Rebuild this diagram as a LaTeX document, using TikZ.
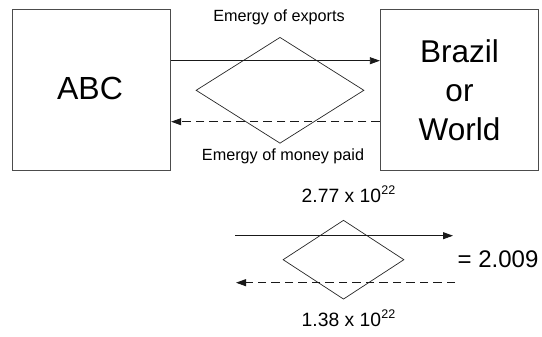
\documentclass[tikz,border=0pt]{standalone}
\usepackage{fontspec}
\setmainfont{Liberation Sans}
\usetikzlibrary{arrows.meta,shapes.geometric}
\begin{document}
\begin{tikzpicture}[x=1pt,y=-1pt,
  sysbox/.style={draw=black!70,line width=0.8pt,minimum width=158.5pt,minimum height=161pt,inner sep=0pt,align=center,
    font=\fontsize{31.5}{38.8}\selectfont},
  bigdia/.style={draw=black!85,line width=0.7pt,shape=diamond,inner sep=0pt},
  flow/.style={draw=black!90,line width=0.8pt,-{Triangle[length=10pt,width=7pt]}},
  money/.style={flow,dash pattern=on 8.5pt off 5pt},
  lbl/.style={inner sep=0pt,font=\fontsize{16.2}{19}\selectfont},
  val/.style={inner sep=0pt,font=\fontsize{19.3}{22}\selectfont,anchor=base west}
]
\useasboundingbox (0,0) rectangle (542,337);
% top part
\node[sysbox] (abc) at (91.5,90) {};
\node[inner sep=0pt,font=\fontsize{32}{38}\selectfont] (abct) at (90,88.5) {ABC};
\node[sysbox] (bw) at (459.5,90.3) {Brazil\\or\\World};
\node[bigdia,minimum width=168pt,minimum height=106pt] (d1) at (280,90.3) {};
\draw[flow] (abc.east |- 0,60.7) -- (bw.west |- 0,60.7);
\draw[money] (bw.west |- 0,121.7) -- (abc.east |- 0,121.7);
\node[lbl] (exp) at (279,17) {Emergy of exports};
\node[lbl] (pay) at (283,156.7) {Emergy of money paid};
% lower part
\node[bigdia,minimum width=121pt,minimum height=79pt] (d2) at (343.5,259.7) {};
\coordinate (a1) at (235,235.7);
\coordinate (b1) at (453,235.7);
\coordinate (a2) at (455,282.7);
\coordinate (b2) at (236,282.7);
\draw[flow] (a1) -- (b1);
\draw[money] (a2) -- (b2);
\node[val] (v1) at (301.5,202.7) {2.77 x 10\kern0.3pt\raisebox{7.7pt}{\fontsize{12.5}{12.5}\selectfont 22}};
\node[val] (v2) at (301.5,326.5) {1.38 x 10\kern0.3pt\raisebox{7.7pt}{\fontsize{12.5}{12.5}\selectfont 22}};
\node[inner sep=0pt,anchor=base west,font=\fontsize{24}{28}\selectfont] (res) at (457.5,267.6) {= 2.009};
\end{tikzpicture}
\end{document}
